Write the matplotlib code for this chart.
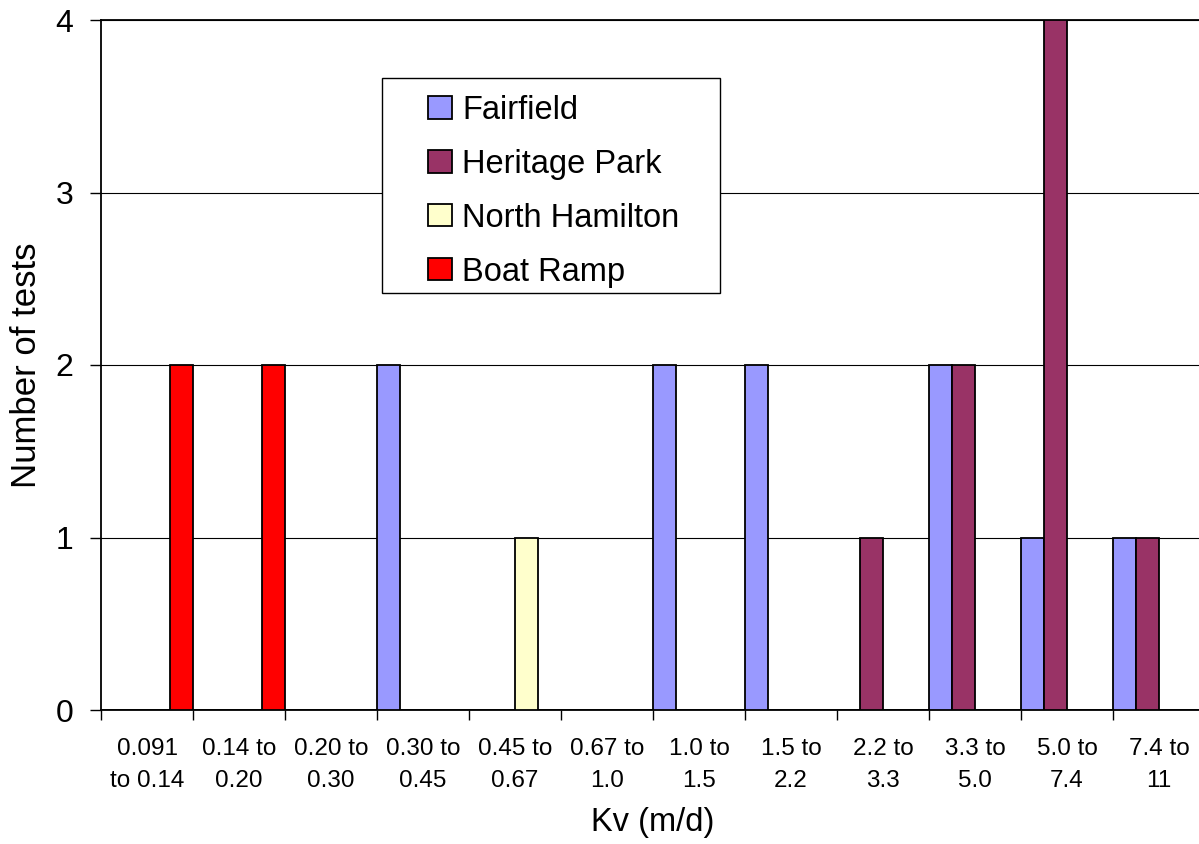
'''Grouped bar chart of vertical hydraulic conductivity test counts by site.'''

import matplotlib.pyplot as plt
from matplotlib.patches import Rectangle
import numpy

plt.rcParams['font.family'] = ['Liberation Sans', 'DejaVu Sans']

categories = ['0.091\nto 0.14', '0.14 to\n0.20', '0.20 to\n0.30', '0.30 to\n0.45',
              '0.45 to\n0.67', '0.67 to\n1.0', '1.0 to\n1.5', '1.5 to\n2.2',
              '2.2 to\n3.3', '3.3 to\n5.0', '5.0 to\n7.4', '7.4 to\n11']
sites = ['Fairfield', 'Heritage Park', 'North Hamilton', 'Boat Ramp']
fairfield = [0, 0, 0, 2, 0, 0, 2, 2, 0, 2, 1, 1]
heritage_park = [0, 0, 0, 0, 0, 0, 0, 0, 1, 2, 4, 1]
north_hamilton = [0, 0, 0, 0, 1, 0, 0, 0, 0, 0, 0, 0]
boat_ramp = [2, 2, 0, 0, 0, 0, 0, 0, 0, 0, 0, 0]
colours = ['#9999FF', '#993366', '#FFFFCC', '#FF0000']

W, H = 1199, 844
fig = plt.figure(figsize=(W / 100, H / 100), dpi=100)
# plot area runs off the right edge of the figure
ax = fig.add_axes([101 / W, 134 / H, 1104 / W, 690 / H])

series = [fairfield, heritage_park, north_hamilton, boat_ramp]
x = numpy.arange(len(categories))
width = 0.25
handles = []
for k in range(len(series)):
    bars = ax.bar(x + k * width, series[k], width=width, align='edge',
                  color=colours[k], edgecolor='black', linewidth=1.3,
                  zorder=3, label=sites[k])
    handles.append(bars)

ax.set_xlim(0, len(categories))
ax.set_ylim(0, 4)
ax.set_yticks(range(5))
ax.yaxis.grid(True, color='black', linewidth=0.8, zorder=0)
ax.set_axisbelow(True)

# boundaries get the tick marks, centres get the labels
ax.set_xticks(numpy.arange(len(categories) + 1))
ax.set_xticklabels([])
ax.set_xticks(x + 0.5, minor=True)
ax.set_xticklabels(categories, minor=True, fontsize=17.5, linespacing=1.6)
ax.tick_params(axis='x', which='major', direction='out', length=7,
               width=1, color='black')
ax.tick_params(axis='x', which='minor', length=0, pad=20)
ax.tick_params(axis='y', direction='out', length=8, width=1, pad=12,
               labelsize=23)

for side in ['left', 'bottom', 'top']:
    ax.spines[side].set_linewidth(1.3)
    ax.spines[side].set_color('black')
ax.spines['right'].set_visible(False)

ax.set_xlabel('Kv (m/d)', fontsize=23.5, labelpad=11)
ax.set_ylabel('Number of tests', fontsize=25, labelpad=9)

# legend box drawn separately so the padding can differ per side
fig.patches.append(Rectangle((382 / W, 1 - 293 / H), 338 / W, 215 / H,
                             transform=fig.transFigure, facecolor='white',
                             edgecolor='black', linewidth=1.0, zorder=4))
fig.legend(handles=handles, loc='upper left',
           bbox_to_anchor=(428 / W, 1 - 95 / H),
           bbox_transform=fig.transFigure, frameon=False, fontsize=23.5,
           borderpad=0, borderaxespad=0, handlelength=0.74,
           handleheight=0.67, handletextpad=0.3, labelspacing=0.7)

fig.savefig('out.png', dpi=100)
